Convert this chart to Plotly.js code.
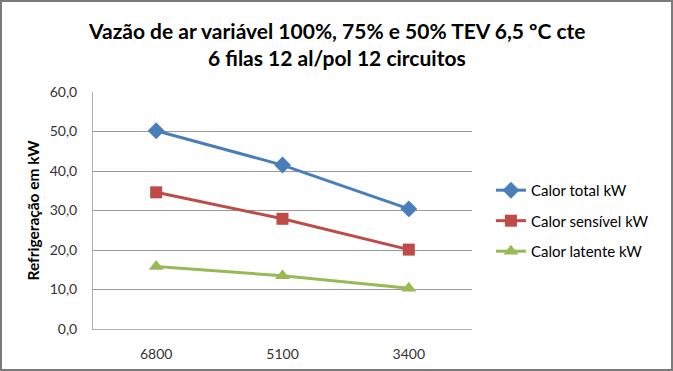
<!DOCTYPE html>
<html>
<head>
<meta charset="utf-8">
<script src="https://cdn.plot.ly/plotly-3.0.1.min.js"></script>
<style>
html,body{margin:0;padding:0;background:#fff;}
#wrap{position:relative;width:673px;height:371px;}
#chart{position:absolute;left:0;top:0;width:673px;height:371px;}
#frame{position:absolute;left:0;top:0;width:673px;height:371px;box-sizing:border-box;border:2px solid #7a7a7a;pointer-events:none;}
</style>
</head>
<body>
<div id="wrap"><div id="chart"></div><div id="frame"></div></div>
<script>
const categories = ['6800', '5100', '3400'];
const calorTotal = [50.2, 41.5, 30.4];
const calorSensivel = [34.6, 27.9, 20.1];
const calorLatente = [15.8, 13.5, 10.3];
const seriesNames = ['Calor total kW', 'Calor sensível kW', 'Calor latente kW'];
const yTicks = [0, 10, 20, 30, 40, 50, 60];
const yTickLabels = ['0,0', '10,0', '20,0', '30,0', '40,0', '50,0', '60,0'];
const titleLines = ['Vazão de ar variável 100%, 75% e 50% TEV 6,5 ºC cte', '6 filas 12 al/pol 12 circuitos'];

const traces = [
  {x: categories, y: calorTotal, name: seriesNames[0], legendgroup: 'a', type: 'scatter', mode: 'lines+markers',
   line: {color: '#4a7ebb', width: 3}, marker: {symbol: 'diamond', size: 13, color: '#4a7ebb'}},
  {x: categories, y: calorSensivel, name: seriesNames[1], legendgroup: 'b', type: 'scatter', mode: 'lines+markers',
   line: {color: '#be4b48', width: 3}, marker: {symbol: 'square', size: 12, color: '#be4b48'}},
  {x: categories, y: calorLatente, name: seriesNames[2], legendgroup: 'c', type: 'scatter', mode: 'lines+markers',
   line: {color: '#98b954', width: 3}, marker: {symbol: 'triangle-up', size: 13, color: '#98b954'}}
];

const titleFont = {family: 'Lato, sans-serif', size: 21, color: '#000', weight: 'bold'};

const layout = {
  width: 673, height: 371,
  margin: {l: 93, r: 201, t: 92, b: 42},
  paper_bgcolor: '#fff', plot_bgcolor: '#fff',
  font: {family: 'Lato, "Open Sans", sans-serif', color: '#333', size: 14},
  annotations: [
    {text: titleLines[0], xref: 'paper', yref: 'paper', x: (337 - 93) / 379, y: (329 - 30) / 237,
     xanchor: 'center', yanchor: 'middle', showarrow: false, font: titleFont},
    {text: titleLines[1], xref: 'paper', yref: 'paper', x: (337 - 93) / 379, y: (329 - 58) / 237,
     xanchor: 'center', yanchor: 'middle', showarrow: false, font: titleFont}
  ],
  xaxis: {type: 'category', range: [-0.5, 2.5], showgrid: false, showline: true, linecolor: '#b0b0b0', linewidth: 1,
          ticks: '', ticklabelstandoff: 12, tickfont: {size: 14, color: '#333'}, fixedrange: true},
  yaxis: {range: [0, 60], tickvals: yTicks, ticktext: yTickLabels, showgrid: true, gridcolor: '#9a9a9a', gridwidth: 1,
          showline: true, linecolor: '#b0b0b0', linewidth: 1, ticks: '', zeroline: false,
          ticklabelstandoff: 12, tickfont: {size: 14, color: '#333'},
          title: {text: 'Refrigeração em kW', font: {size: 15.5, color: '#000', weight: 'bold'}, standoff: 6}},
  showlegend: true,
  legend: {x: 1.05, xanchor: 'left', y: 0.456, yanchor: 'middle', tracegroupgap: 8,
           font: {size: 15, color: '#000'}, bgcolor: 'rgba(0,0,0,0)', itemwidth: 30}
};

Plotly.newPlot('chart', traces, layout, {displayModeBar: false, staticPlot: true});
</script>
</body>
</html>
